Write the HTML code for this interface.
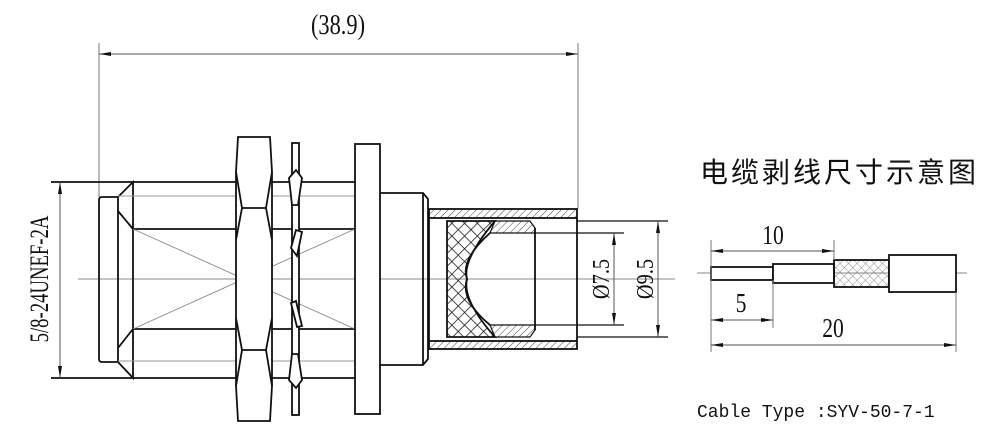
<!DOCTYPE html>
<html><head><meta charset="utf-8"><style>
html,body{margin:0;padding:0;background:#fff;width:1000px;height:442px;overflow:hidden}
svg{display:block}
</style></head><body>
<svg width="1000" height="442" viewBox="0 0 1000 442" xmlns="http://www.w3.org/2000/svg">
<defs>
<pattern id="hs" width="5" height="5" patternUnits="userSpaceOnUse" patternTransform="rotate(45)"><line x1="0" y1="0" x2="0" y2="5" stroke="#444" stroke-width="1"/></pattern>
<pattern id="hx" width="9" height="9" patternUnits="userSpaceOnUse" patternTransform="rotate(45)"><line x1="0" y1="0" x2="0" y2="9" stroke="#111" stroke-width="1.5"/><line x1="0" y1="0" x2="9" y2="0" stroke="#111" stroke-width="1.5"/></pattern>
<pattern id="hb" width="6" height="6" patternUnits="userSpaceOnUse" patternTransform="rotate(45)"><line x1="0" y1="0" x2="0" y2="6" stroke="#777" stroke-width="0.8"/><line x1="0" y1="0" x2="6" y2="0" stroke="#777" stroke-width="0.8"/></pattern>
<marker id="a" viewBox="0 0 12 6" refX="12" refY="3" markerWidth="12" markerHeight="6" markerUnits="userSpaceOnUse" orient="auto-start-reverse"><path d="M0,1 L12,3 L0,5Z" fill="#111"/></marker>
</defs>
<g fill="none" stroke="#111" stroke-width="1.8">
<line x1="99" y1="43" x2="99" y2="197" stroke="#777" stroke-width="1"/>
<line x1="578" y1="43" x2="578" y2="209" stroke="#777" stroke-width="1"/>
<line x1="99" y1="54" x2="578" y2="54" stroke="#555" stroke-width="1" marker-start="url(#a)" marker-end="url(#a)"/>
<line x1="51" y1="182" x2="99" y2="182"/>
<line x1="51" y1="378" x2="99" y2="378"/>
<line x1="60" y1="182" x2="60" y2="378" stroke="#555" stroke-width="1" marker-start="url(#a)" marker-end="url(#a)"/>
<line x1="78" y1="279" x2="675" y2="279" stroke="#888" stroke-width="1"/>
<path d="M102,197 L118,197 L118,362 L102,362 Q99,362 99,359 L99,200 Q99,197 102,197Z"/>
<path d="M118,197 L133,182 L133,378 L118,362"/>
<path d="M118,211 L133,229 M118,348 L133,329"/>
<line x1="99" y1="182" x2="355" y2="182"/>
<line x1="99" y1="378" x2="355" y2="378"/>
<line x1="133" y1="229" x2="355" y2="229"/>
<line x1="133" y1="329" x2="355" y2="329"/>
<line x1="118" y1="196" x2="355" y2="196" stroke="#999" stroke-width="1"/>
<line x1="118" y1="361" x2="355" y2="361" stroke="#999" stroke-width="1"/>
<path d="M133,229 L355,329 M133,329 L355,229" stroke="#888" stroke-width="0.9"/>
<!-- nut -->
<path d="M238,137 L270,137 L272,172 L272,386 L270,421 L238,421 L236,386 L236,172Z" fill="#fff"/>
<path d="M236,172 L242,208 L266,208 L272,172" />
<path d="M242,208 L236,240 M266,208 L272,240"/>
<path d="M236,318 L242,350 L266,350 L272,318"/>
<path d="M242,350 L236,386 M266,350 L272,386"/>
<!-- washer -->
<rect x="292" y="143" width="7" height="272" fill="#fff"/>
<path d="M289,178 L296,170 L302,178 L298,205 L292,205Z" fill="#fff"/>
<path d="M291,248 L296,230 L302,232 L297,256Z" fill="#fff"/>
<path d="M291,303 L296,301 L302,326 L297,327Z" fill="#fff"/>
<path d="M292,354 L298,354 L302,380 L296,388 L289,380Z" fill="#fff"/>
<rect x="355" y="144" width="25" height="270" fill="#fff"/>
<path d="M380,193 L423,193 L428,199 L428,359 L423,365 L380,365"/>
<line x1="423" y1="193" x2="423" y2="365"/>
<rect x="429" y="209" width="148" height="9" fill="url(#hs)" stroke="#111"/>
<rect x="429" y="341" width="148" height="8" fill="url(#hs)" stroke="#111"/>
<line x1="429" y1="218" x2="429" y2="341"/>
<line x1="577" y1="218" x2="577" y2="341"/>
<path d="M447,221 L495,221 Q462,260 467,279 Q462,300 495,337 L447,337Z" fill="url(#hx)"/>
<path d="M495,221 L530,221 L535,228 L535,233 L490,233Z M495,337 L530,337 L535,330 L535,325 L490,325Z" fill="url(#hs)" stroke-width="1.2"/>
<path d="M490,233 Q460,260 467,279 Q460,300 490,325"/>
<line x1="535" y1="228" x2="535" y2="330"/>
<line x1="535" y1="233" x2="624" y2="233" stroke-width="1.2"/>
<line x1="535" y1="325" x2="624" y2="325" stroke-width="1.2"/>
<line x1="577" y1="221" x2="668" y2="221" stroke-width="1.2"/>
<line x1="577" y1="337" x2="668" y2="337" stroke-width="1.2"/>
<line x1="614" y1="233" x2="614" y2="325" stroke="#555" stroke-width="1" marker-start="url(#a)" marker-end="url(#a)"/>
<line x1="658" y1="221" x2="658" y2="337" stroke="#555" stroke-width="1" marker-start="url(#a)" marker-end="url(#a)"/>
<line x1="697" y1="273" x2="967" y2="273" stroke="#888" stroke-width="1"/>
<rect x="711" y="267" width="62" height="13" fill="#fff"/>
<rect x="773" y="264" width="61" height="19" fill="#fff"/>
<rect x="834" y="260" width="55" height="27" fill="url(#hb)"/>
<rect x="889" y="255" width="67" height="37" fill="#fff"/>
<line x1="711" y1="240" x2="711" y2="352" stroke="#777" stroke-width="1"/>
<line x1="773" y1="280" x2="773" y2="328" stroke="#777" stroke-width="1"/>
<line x1="834" y1="240" x2="834" y2="260" stroke="#777" stroke-width="1"/>
<line x1="956" y1="292" x2="956" y2="352" stroke="#777" stroke-width="1"/>
<line x1="711" y1="251" x2="834" y2="251" stroke="#555" stroke-width="1" marker-start="url(#a)" marker-end="url(#a)"/>
<line x1="711" y1="320" x2="773" y2="320" stroke="#555" stroke-width="1" marker-start="url(#a)" marker-end="url(#a)"/>
<line x1="711" y1="345" x2="956" y2="345" stroke="#555" stroke-width="1" marker-start="url(#a)" marker-end="url(#a)"/>
</g>
<g font-family="Liberation Serif, serif" fill="#111">
<text transform="translate(338 34) scale(0.8 1)" font-size="28" text-anchor="middle">(38.9)</text>
<text transform="translate(48 279) rotate(-90) scale(0.72 1)" font-size="26" text-anchor="middle">5/8-24UNEF-2A</text>
<text transform="translate(609 279) rotate(-90) scale(0.85 1)" font-size="24" text-anchor="middle">Ø7.5</text>
<text transform="translate(653 279) rotate(-90) scale(0.85 1)" font-size="24" text-anchor="middle">Ø9.5</text>
<text transform="translate(773 244) scale(0.8 1)" font-size="27" text-anchor="middle">10</text>
<text transform="translate(741 312) scale(0.8 1)" font-size="27" text-anchor="middle">5</text>
<text transform="translate(833 337) scale(0.8 1)" font-size="27" text-anchor="middle">20</text>
<text x="700" y="182" font-size="28" font-family="Noto Sans CJK SC, sans-serif" letter-spacing="3">电缆剥线尺寸示意图</text>
<text x="697" y="417" font-size="18" font-family="Liberation Mono, monospace">Cable Type :SYV-50-7-1</text>
</g>
</svg>
</body></html>
